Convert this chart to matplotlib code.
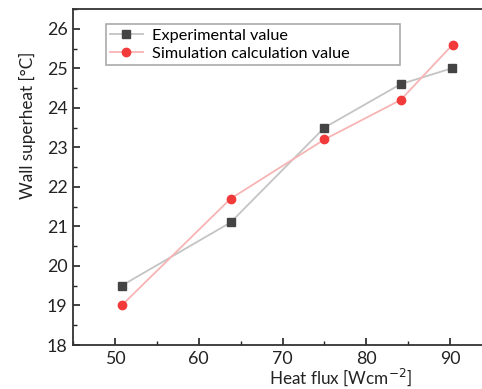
import numpy as np
import matplotlib.pyplot as plt
from matplotlib.ticker import MultipleLocator

# data
heat_flux_exp = [50.8, 63.8, 75.0, 84.1, 90.2]
superheat_exp = [19.5, 21.1, 23.5, 24.6, 25.0]
heat_flux_sim = [50.8, 63.8, 75.0, 84.1, 90.3]
superheat_sim = [19.0, 21.7, 23.2, 24.2, 25.6]

plt.rcParams['font.family'] = ['Lato', 'DejaVu Sans']

fig = plt.figure(figsize=(4.82, 3.89), dpi=100)
ax = fig.add_axes([73 / 482, 1 - 345 / 389, 1 - 73 / 482, 336 / 389])

ax.plot(heat_flux_exp, superheat_exp, color='#c4c4c4', lw=1.3, marker='s',
        markersize=6, markerfacecolor='#444444', markeredgecolor='#444444',
        label='Experimental value')
ax.plot(heat_flux_sim, superheat_sim, color='#f7b4b4', lw=1.3, marker='o',
        markersize=6, markerfacecolor='#f23a3a', markeredgecolor='#f23a3a',
        label='Simulation calculation value')

ax.set_xlim(45, 93.8)
ax.set_ylim(18, 26.5)
ax.xaxis.set_major_locator(MultipleLocator(10))
ax.xaxis.set_minor_locator(MultipleLocator(5))
ax.yaxis.set_major_locator(MultipleLocator(1))
ax.yaxis.set_minor_locator(MultipleLocator(0.5))
ax.tick_params(which='both', direction='in', labelsize=12.8, colors='#222222')
ax.tick_params(which='major', length=5, width=1.2)
ax.tick_params(which='minor', length=3, width=1.0)
ax.tick_params(axis='x', pad=4)
ax.tick_params(axis='y', pad=4)

for side in ['left', 'bottom', 'top']:
    ax.spines[side].set_color('#333333')
    ax.spines[side].set_linewidth(1.3)
ax.spines['right'].set_visible(False)

ax.set_xlabel('Heat flux [Wcm$^{-2}$]', fontsize=12.3, color='#222222')
ax.set_ylabel('Wall superheat [°C]', fontsize=12.3, color='#222222')
ax.xaxis.set_label_coords(0.655, -0.064)
ax.yaxis.set_label_coords(-0.09, 0.655)

leg = ax.legend(loc='upper left', bbox_to_anchor=(0.081, 0.955, 0.719, 0.0),
                mode='expand', fontsize=11.7,
                fancybox=False, edgecolor='#aaaaaa', framealpha=1,
                borderpad=0.25, handlelength=2.0, labelspacing=0.25,
                handletextpad=0.6, borderaxespad=0)
leg.get_frame().set_linewidth(1.2)

fig.savefig('out.png', dpi=100)
